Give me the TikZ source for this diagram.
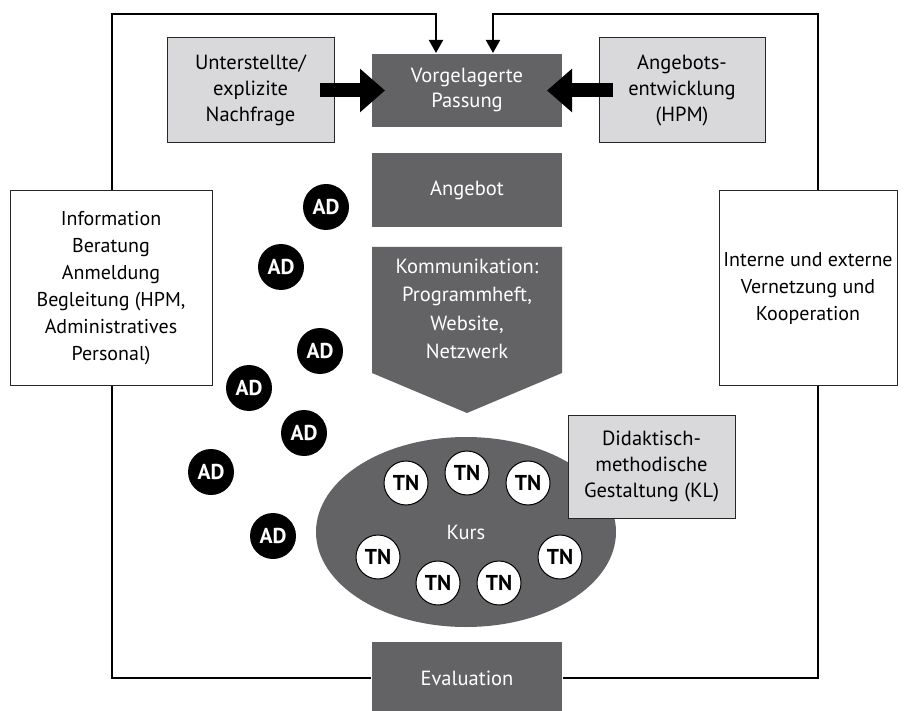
\documentclass[tikz,border=0pt]{standalone}
\usepackage{fontspec}
\setmainfont{PT Sans}
\usetikzlibrary{arrows.meta,shapes.geometric,backgrounds}

\definecolor{darkbox}{RGB}{99,99,101}
\definecolor{lightbox}{RGB}{217,217,219}

\tikzset{every picture/.style={line width=2pt}}
\tikzset{
  darkstep/.style={fill=darkbox, text=white, align=center, inner sep=0pt,
    minimum width=190pt, minimum height=73pt, font=\fontsize{20.5}{25}\selectfont},
  lightstep/.style={fill=lightbox, draw=black!85, line width=1pt, align=center, inner sep=0pt,
    minimum width=167pt, minimum height=105pt, font=\fontsize{20.5}{26}\selectfont},
  sidestep/.style={fill=white, draw=black!85, line width=1pt, align=center, inner sep=0pt,
    minimum height=194pt, font=\fontsize{20}{27}\selectfont},
  adnode/.style={circle, fill=black, text=white, minimum size=46pt, inner sep=0pt,
    font=\bfseries\fontsize{21.5}{21.5}\selectfont},
  tnnode/.style={circle, fill=white, draw=black, line width=1pt, minimum size=44pt, inner sep=0pt,
    font=\bfseries\fontsize{21.5}{21.5}\selectfont},
  bigarrow/.style={line width=14pt, -{Triangle[width=42pt,length=25pt]}},
  loopline/.style={line width=2pt, -{Triangle[width=14pt,length=13pt]}}
}

\begin{document}
\begin{tikzpicture}[x=1pt,y=1pt,yscale=-1]
\useasboundingbox (0,0) rectangle (910,711);

% Steps in the middle
\node[darkstep] (vor) at (467,90.5) {Vorgelagerte\\Passung};
\node[darkstep, minimum height=74pt] (ang) at (467,190) {Angebot};
%Kommunikation shape
\fill[darkbox] (372,247) -- (562,247) -- (562,373) -- (467,413) -- (372,373) -- cycle;
\node[text=white, align=center, font=\fontsize{20.5}{28.5}\selectfont] (kom) at (467,309)
  {Kommunikation:\\Programmheft,\\Website,\\Netzwerk};
\node[ellipse, fill=darkbox, text=white, minimum width=300pt, minimum height=190pt, inner sep=0pt,
  font=\fontsize{20.5}{25}\selectfont] (kurs) at (466,532) {Kurs};
\node[darkstep, minimum height=72pt] (eva) at (467,678) {Evaluation};

% Boxes at the top
\node[lightstep] (dem) at (250.5,90.5) {Unterstellte/\\explizite\\Nachfrage};
\node[lightstep, minimum width=166pt] (ent) at (682,90.5) {Angebots-\\entwicklung\\(HPM)};
\node[lightstep, minimum height=103pt] (did) at (651.5,466.5) {Didaktisch-\\methodische\\Gestaltung (KL)};

% Boxes at the sides
\node[sidestep, minimum width=202pt] (info) at (111,288)
  {Information\\Beratung\\Anmeldung\\Begleitung (HPM,\\Administratives\\Personal)};
\node[sidestep, minimum width=178pt] (netz) at (808,288)
  {Interne und externe\\Vernetzung und\\Kooperation};

% Participants
\node[tnnode] (tn1) at (406,483) {TN};
\node[tnnode] (tn2) at (467,473) {TN};
\node[tnnode] (tn3) at (528,483) {TN};
\node[tnnode] (tn4) at (378,557) {TN};
\node[tnnode] (tn5) at (438,583) {TN};
\node[tnnode] (tn6) at (499,583) {TN};
\node[tnnode] (tn7) at (560,557) {TN};

% Staff
\node[adnode] (ad1) at (326,207) {AD};
\node[adnode] (ad2) at (281,267) {AD};
\node[adnode] (ad3) at (320,351) {AD};
\node[adnode] (ad4) at (249,388) {AD};
\node[adnode] (ad5) at (304,433) {AD};
\node[adnode] (ad6) at (211,472) {AD};
\node[adnode] (ad7) at (273,536) {AD};

% Big arrows
\draw[bigarrow] ([xshift=-15pt]dem.east) -- ([xshift=14pt]vor.west);
\draw[bigarrow] ([xshift=14pt]ent.west) -- ([xshift=-16pt]vor.east);

% Frame
\coordinate (tl) at (112,14);
\coordinate (bl) at (112,678);
\coordinate (tr) at (818,14);
\coordinate (br) at (818,678);
\coordinate (inl) at (436,14);
\coordinate (inr) at (493,14);
\begin{scope}[on background layer]
\draw[loopline] (eva.west) -- (bl) -- (tl) -- (inl) -- (inl |- vor.north);
\draw[loopline] (eva.east) -- (br) -- (tr) -- (inr) -- (inr |- vor.north);
\end{scope}

\end{tikzpicture}
\end{document}
